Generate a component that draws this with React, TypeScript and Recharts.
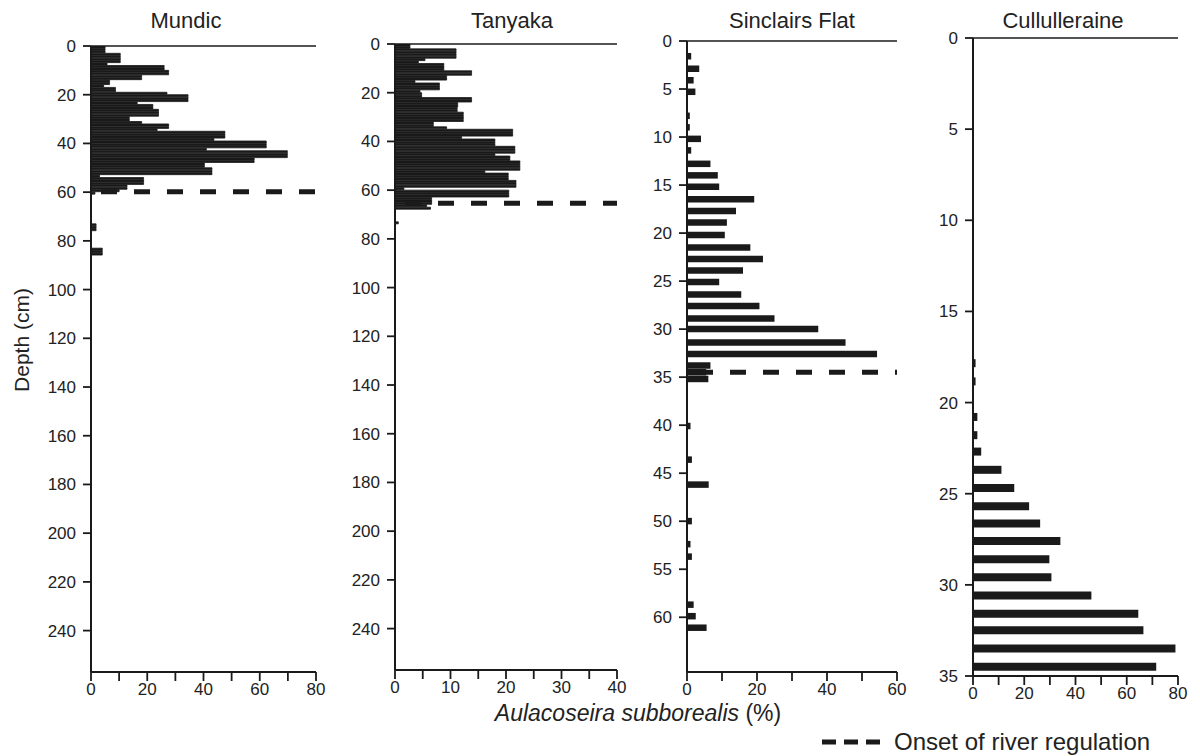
import React from 'react';
import { BarChart, Bar, XAxis, YAxis, ReferenceLine } from 'recharts';

// % Aulacoseira subborealis per 1-cm slice (slice i spans i..i+1 cm)
const mundicPct = [
  5, 5, 5, 10.4, 10.4, 10.4, 10.4, 5.7, 26, 26,
  27.6, 27.6, 18, 18, 6.6, 6.6, 4.5, 8.7, 8.7, 27,
  34.5, 34.5, 34.5, 16.4, 22, 22, 24, 24, 24, 13.6,
  13.6, 18, 27.6, 27.6, 23.5, 47.6, 47.6, 47.6, 43.7, 62.3,
  62.3, 62.3, 41, 69.8, 69.8, 69.8, 58, 58, 40.3, 40.3,
  43, 43, 43, 3, 18.7, 18.7, 18.7, 12.8, 12.8, 10,
  1.4, 0, 0, 0, 0, 0, 0, 0, 0, 0,
  0, 0, 0, 1.8, 1.8, 1.8, 0, 0, 0, 0,
  0, 0, 0, 4, 4, 4,
];

const tanyakaPct = [
  2.7, 2.7, 11, 11, 11, 11, 5.4, 4.2, 8.8, 8.8,
  8.8, 13.8, 13.8, 9.3, 9.3, 3.6, 8, 8, 8, 4.5,
  4.8, 4.8, 13.8, 13.8, 11.3, 11.3, 11.2, 11.2, 12.3, 12.3,
  12.3, 12.3, 6.9, 6.9, 9.3, 21.2, 21.2, 21.2, 12, 18,
  18, 18, 21.6, 21.6, 21.6, 18, 20.7, 20.7, 22.5, 22.5,
  22.5, 22.5, 16.2, 20.4, 20.4, 20.4, 21.8, 21.8, 21.8, 1.6,
  20.5, 20.5, 20.5, 6.6, 6.6, 6.6, 5.7, 6.4, 0, 0,
  0, 0, 0, 0.6,
];

const sinclairsDepth = [
  1.6, 2.9, 4.1, 5.3, 7.8, 9.0, 10.2, 11.4, 12.8, 14.0,
  15.2, 16.5, 17.7, 18.9, 20.2, 21.5, 22.7, 23.9, 25.1, 26.4,
  27.6, 28.9, 30.0, 31.4, 32.6, 33.8, 34.5, 35.2, 40.1, 43.6,
  46.2, 50.0, 52.4, 53.7, 58.7, 59.9, 61.1,
];
const sinclairsPct = [
  1.2, 3.5, 1.9, 2.4, 0.8, 0.8, 4, 1.2, 6.7, 8.8,
  9.2, 19.2, 14, 11.4, 10.8, 18.1, 21.7, 16, 9.2, 15.5,
  20.7, 25, 37.5, 45.3, 54.3, 6.7, 5.5, 6.1, 1, 1.4,
  6.2, 1.4, 1, 1.4, 1.9, 2.5, 5.6,
];

const cullDepth = [
  17.85, 18.85, 20.8, 21.8, 22.7, 23.7, 24.7, 25.7, 26.65, 27.6,
  28.6, 29.6, 30.6, 31.6, 32.5, 33.5, 34.5,
];
const cullPct = [
  1, 1, 1.7, 1.7, 3.2, 11.1, 16.1, 21.9, 26.2, 34.1,
  29.8, 30.6, 46.2, 64.5, 66.5, 79, 71.5,
];

// depth of the onset of river regulation (cm)
const onsetMundic = 59.8;
const onsetTanyaka = 65.4;
const onsetSinclairs = 34.5;

const deepTicks = [0, 20, 40, 60, 80, 100, 120, 140, 160, 180, 200, 220, 240];
const sinclairsTicks = [0, 5, 10, 15, 20, 25, 30, 35, 40, 45, 50, 55, 60];
const cullTicks = [0, 5, 10, 15, 20, 25, 30, 35];
const pct80Ticks = [0, 10, 20, 30, 40, 50, 60, 70, 80];
const pct40Ticks = [0, 5, 10, 15, 20, 25, 30, 35, 40];
const pct60Ticks = [0, 10, 20, 30, 40, 50, 60];

const slices = (pct: number[]) => pct.map((v, i) => ({ depth: i + 0.5, pct: v }));
const pairs = (depth: number[], pct: number[]) => depth.map((d, i) => ({ depth: d, pct: pct[i] }));

const FONT = '"Liberation Sans", Arial, Helvetica, sans-serif';
const INK = '#1a1a1a';
const YW = 70;
const XH = 50;
const RM = 12;

type PanelProps = {
  title: string;
  titleX: number;
  plotLeft: number;
  plotWidth: number;
  plotTop: number;
  plotBottom: number;
  data: { depth: number; pct: number }[];
  xMax: number;
  xTicks: number[];
  labelStep: number;
  yMax: number;
  yTicks: number[];
  onset?: number;
  barSize?: number;
  seam?: number;
};

function Panel(p: PanelProps) {
  const width = YW + p.plotWidth + RM;
  const height = p.plotBottom + XH;
  return (
    <>
      <div
        style={{
          position: 'absolute', left: p.titleX - 100, top: 8, width: 200,
          textAlign: 'center', fontFamily: FONT, fontSize: 22, color: '#222', lineHeight: '26px',
        }}
      >
        {p.title}
      </div>
      <div style={{ position: 'absolute', left: p.plotLeft - YW, top: 0 }}>
        <BarChart
          width={width}
          height={height}
          data={p.data}
          layout="vertical"
          margin={{ top: p.plotTop, right: RM, bottom: 0, left: 0 }}
          barCategoryGap={0}
        >
          <XAxis
            type="number"
            dataKey="pct"
            domain={[0, p.xMax]}
            ticks={p.xTicks}
            interval={0}
            allowDataOverflow
            height={XH}
            tickSize={9}
            tickMargin={2}
            tickFormatter={(v: number) => (v % p.labelStep === 0 ? String(v) : '')}
            axisLine={{ stroke: INK, strokeWidth: 2 }}
            tickLine={{ stroke: INK, strokeWidth: 1.8 }}
            tick={{ fontSize: 17, fill: '#222', fontFamily: FONT }}
          />
          <YAxis
            type="number"
            dataKey="depth"
            domain={[0, p.yMax]}
            ticks={p.yTicks}
            interval={0}
            allowDataOverflow
            width={YW}
            tickSize={8}
            tickMargin={7}
            axisLine={{ stroke: INK, strokeWidth: 2 }}
            tickLine={{ stroke: INK, strokeWidth: 1.8 }}
            tick={{ fontSize: 17, fill: '#222', fontFamily: FONT }}
          />
          <ReferenceLine y={0} stroke={INK} strokeWidth={1.5} />
          <Bar
            dataKey="pct"
            fill={INK}
            stroke={p.seam ? INK : undefined}
            strokeWidth={p.seam ?? 0}
            barSize={p.barSize}
            isAnimationActive={false}
          />
          {p.onset !== undefined && (
            <ReferenceLine
              y={p.onset}
              stroke={INK}
              strokeWidth={5}
              strokeDasharray="16 17"
              strokeDashoffset={-10}
            />
          )}
        </BarChart>
      </div>
    </>
  );
}

export default function App() {
  return (
    <div style={{ position: 'absolute', left: 0, top: 0, width: 1200, height: 756, background: '#fff', overflow: 'hidden' }}>
      <Panel
        title="Mundic" titleX={186}
        plotLeft={91} plotWidth={225} plotTop={46} plotBottom={672}
        data={slices(mundicPct)} xMax={80} xTicks={pct80Ticks} labelStep={20}
        yMax={257} yTicks={deepTicks} onset={onsetMundic} seam={0.8}
      />
      <Panel
        title="Tanyaka" titleX={512}
        plotLeft={395} plotWidth={222} plotTop={44} plotBottom={670}
        data={slices(tanyakaPct)} xMax={40} xTicks={pct40Ticks} labelStep={10}
        yMax={257} yTicks={deepTicks} onset={onsetTanyaka} seam={0.8}
      />
      <Panel
        title="Sinclairs Flat" titleX={792}
        plotLeft={687} plotWidth={210} plotTop={41} plotBottom={672}
        data={pairs(sinclairsDepth, sinclairsPct)} xMax={60} xTicks={pct60Ticks} labelStep={20}
        yMax={65.7} yTicks={sinclairsTicks} onset={onsetSinclairs} barSize={6.5}
      />
      <Panel
        title="Cullulleraine" titleX={1063}
        plotLeft={973} plotWidth={205} plotTop={38} plotBottom={676}
        data={pairs(cullDepth, cullPct)} xMax={80} xTicks={pct80Ticks} labelStep={20}
        yMax={35} yTicks={cullTicks} barSize={8}
      />
      <div style={{ position: 'absolute', left: 8, top: 340, width: 0, height: 0 }}>
        <div
          style={{
            position: 'absolute', left: -80, top: -13, width: 160, textAlign: 'center',
            transform: 'translate(14px, 0) rotate(-90deg)', fontFamily: FONT, fontSize: 21, color: '#222',
            lineHeight: '26px',
          }}
        >
          Depth (cm)
        </div>
      </div>
      <div
        style={{
          position: 'absolute', left: 338, top: 701, width: 600, textAlign: 'center',
          fontFamily: FONT, fontSize: 23, color: '#222', lineHeight: '25px',
        }}
      >
        <i>Aulacoseira subborealis</i> (%)
      </div>
      <div
        style={{
          position: 'absolute', left: 822, top: 729, display: 'flex', alignItems: 'center',
          fontFamily: FONT, fontSize: 24, color: '#222', lineHeight: '26px', whiteSpace: 'nowrap',
        }}
      >
        <svg width={60} height={8} style={{ marginRight: 12, flexShrink: 0 }}>
          <line x1={0} y1={4} x2={60} y2={4} stroke={INK} strokeWidth={5} strokeDasharray="14 8" />
        </svg>
        <span>Onset of river regulation</span>
      </div>
    </div>
  );
}
